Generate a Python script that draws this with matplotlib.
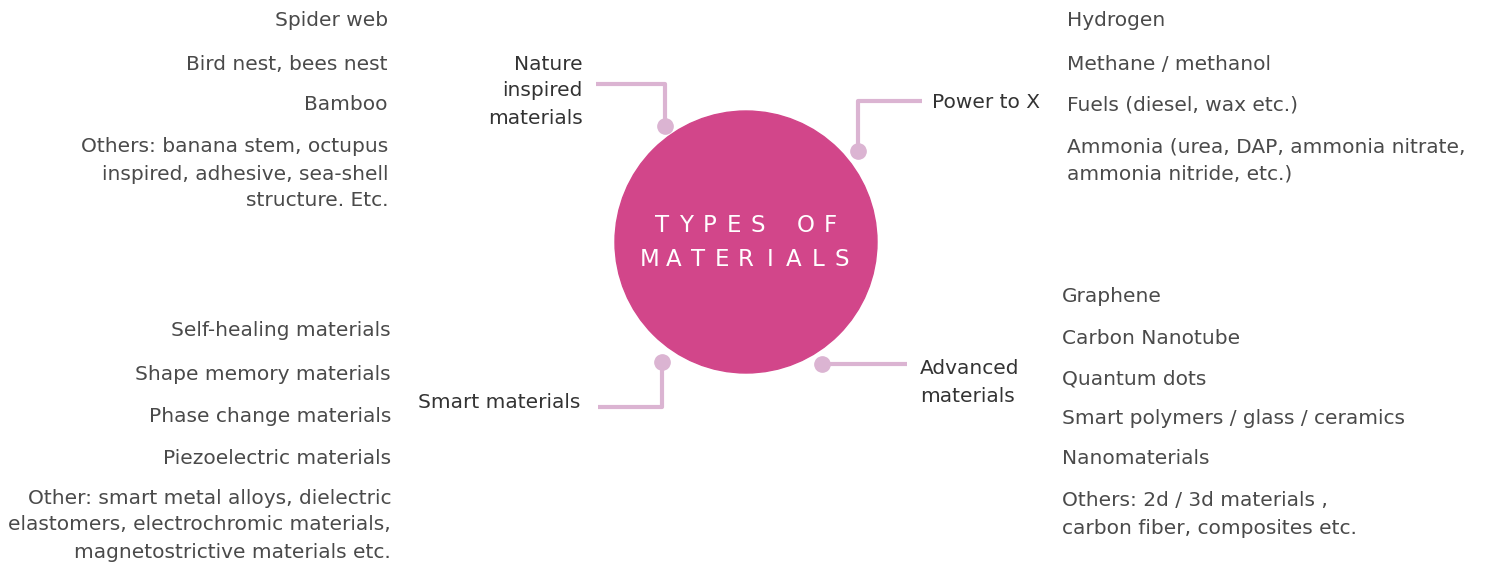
"""Types of materials mind-map diagram."""

import matplotlib
matplotlib.use("Agg")
import matplotlib.pyplot as plt
from matplotlib.patches import Circle

# ---- content ----
center_title = ["TYPES OF", "MATERIALS"]

branch_names = ["Nature\ninspired\nmaterials", "Power to X", "Smart materials", "Advanced\nmaterials"]

nature_items = [
    "Spider web",
    "Bird nest, bees nest",
    "Bamboo",
    "Others: banana stem, octupus\ninspired, adhesive, sea-shell\nstructure. Etc.",
]
power_items = [
    "Hydrogen",
    "Methane / methanol",
    "Fuels (diesel, wax etc.)",
    "Ammonia (urea, DAP, ammonia nitrate,\nammonia nitride, etc.)",
]
smart_items = [
    "Self-healing materials",
    "Shape memory materials",
    "Phase change materials",
    "Piezoelectric materials",
    "Other: smart metal alloys, dielectric\nelastomers, electrochromic materials,\nmagnetostrictive materials etc.",
]
advanced_items = [
    "Graphene",
    "Carbon Nanotube",
    "Quantum dots",
    "Smart polymers / glass / ceramics",
    "Nanomaterials",
    "Others: 2d / 3d materials ,\ncarbon fiber, composites etc.",
]

PINK = "#D2468A"
LINK = "#DBB4D2"
TEXT = "#4A4A4A"
LABEL = "#333333"
FS = 14.5
LINE_H = 27

fig = plt.figure(figsize=(14.92, 5.62), dpi=100)
ax = fig.add_axes([0, 0, 1, 1])
ax.set_xlim(0, 1492)
ax.set_ylim(562, 0)
ax.axis("off")

# central circle with letter-spaced title
ax.add_patch(Circle((746, 242), 131, color=PINK, zorder=2))
pitch = 24
for k, line in enumerate(center_title):
    x0 = 746 - pitch * (len(line) - 1) / 2
    for j, ch in enumerate(line):
        ax.text(x0 + j * pitch, 226 + k * 34, ch, ha="center", va="center",
                color="white", fontsize=16.5, family="DejaVu Sans", zorder=3)


def draw_link(points, dot):
    xs, ys = zip(*points)
    ax.plot(xs, ys, color=LINK, lw=3, solid_capstyle="butt", zorder=1)
    ax.plot(*dot, "o", color=LINK, ms=11, zorder=3)


draw_link([(596, 84), (665, 84), (665, 126)], (665, 126))
draw_link([(922, 101), (858, 101), (858, 151)], (858, 151))
draw_link([(598, 407), (662, 407), (662, 362)], (662, 362))
draw_link([(907, 364), (822, 364)], (822, 364))


def draw_lines(text, x, y, ha, color=TEXT):
    for k, line in enumerate(text.split("\n")):
        ax.text(x, y + k * LINE_H, line, ha=ha, va="center", color=color,
                fontsize=FS)


# branch labels
draw_lines(branch_names[0], 583, 64, "right", LABEL)
draw_lines(branch_names[1], 932, 102, "left", LABEL)
draw_lines(branch_names[2], 418, 402, "left", LABEL)
draw_lines(branch_names[3], 920, 369, "left", LABEL)

# item columns
for item, y in zip(nature_items, [21, 64, 105, 147]):
    draw_lines(item, 388, y, "right")
for item, y in zip(power_items, [21, 64, 105, 147]):
    draw_lines(item, 1067, y, "left")
for item, y in zip(smart_items, [331, 374, 416, 458, 498]):
    draw_lines(item, 391, y, "right")
for item, y in zip(advanced_items, [297, 338, 379, 419, 458, 501]):
    draw_lines(item, 1062, y, "left")

fig.savefig("out.png", dpi=100)
plt.close(fig)
